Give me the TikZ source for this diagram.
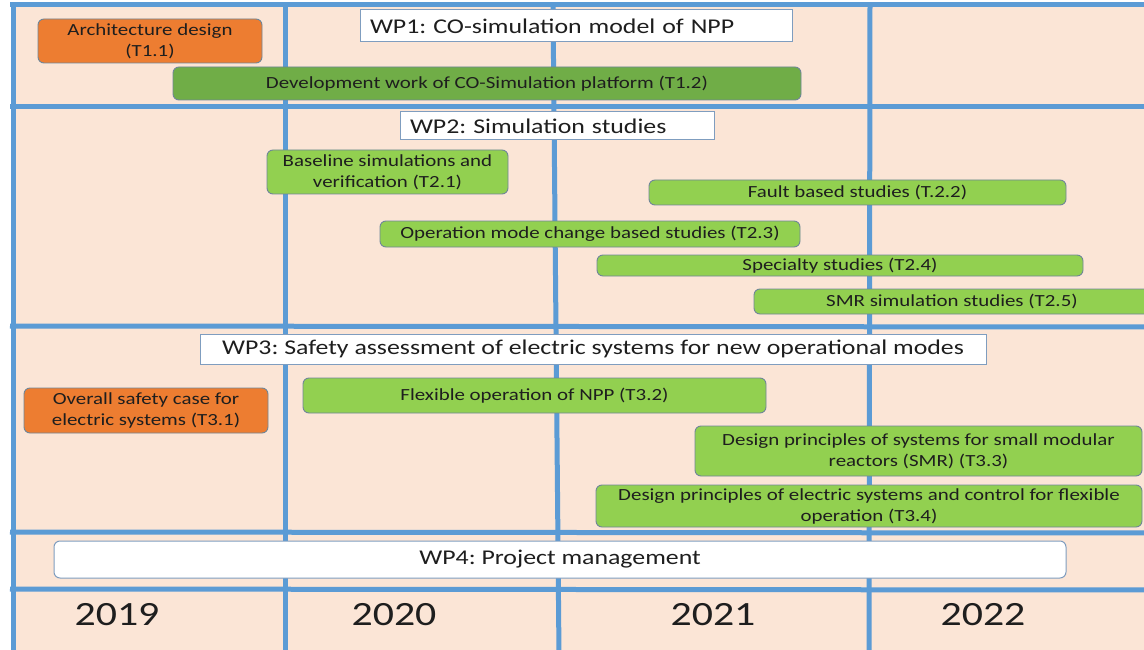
\documentclass[tikz,border=0pt]{standalone}
\usepackage{fontspec}
\setmainfont{Carlito}[FakeStretch=1.23]
\frenchspacing
\definecolor{peach}{HTML}{FBE5D6}
\definecolor{gridblue}{HTML}{5B9BD5}
\definecolor{taskorange}{HTML}{ED7D31}
\definecolor{taskgreen}{HTML}{92D050}
\definecolor{darkgreen}{HTML}{70AD47}
\definecolor{boxedge}{HTML}{6F8698}
\definecolor{wpedge}{HTML}{7F9DBF}
\definecolor{ink}{HTML}{1E1E1E}
\begin{document}
\begin{tikzpicture}[x=1pt,y=-1pt,
  gridline/.style={draw=gridblue, line width=5pt},
  task/.style={rounded corners=6pt, draw=boxedge, line width=0.9pt, align=center,
    text=ink, inner sep=0pt, font=\fontsize{17}{21}\selectfont},
  orangetask/.style={task, fill=taskorange},
  greentask/.style={task, fill=taskgreen},
  darktask/.style={task, fill=darkgreen},
  wp/.style={draw=wpedge, fill=white, line width=1pt, text=ink, inner xsep=10pt,
    inner ysep=0pt, font=\fontsize{21}{24}\selectfont},
  year/.style={text=ink, font=\fontsize{34}{38}\selectfont}]
\useasboundingbox (0,0) rectangle (1144,650);
\clip (0,0) rectangle (1144,650);
% background of the chart area
\fill[peach] (13,5) rectangle (1150,655);
% year columns and work-package rows
\draw[gridline] (13,5) -- (13,655);
\draw[gridline] (285,5) -- (285,655);
\draw[gridline] (553,5) -- (559,655);
\draw[gridline] (870,3) -- (869,655);
\draw[gridline] (10,5) -- (1150,5);
\draw[gridline] (10,107) -- (1150,107);
\draw[gridline] (10,326) -- (1150,327);
\draw[gridline] (10,532) -- (1150,533);
\draw[gridline] (10,589) -- (1150,590);

% WP1
\node[wp, minimum width=432pt, minimum height=32pt, text width=412pt, align=left] (wp1) at (576,26) {WP1: CO-simulation model of NPP};
\node[orangetask, minimum width=224pt, minimum height=44pt] (t11) at (150,41) {Architecture design\\(T1.1)};
\node[darktask, minimum width=628pt, minimum height=33pt] (t12) at (487,83.5) {Development work of CO-Simulation platform (T1.2)};

% WP2
\node[wp, minimum width=314pt, minimum height=28pt, text width=294pt, align=left] (wp2) at (557,126) {WP2: Simulation studies};
\node[greentask, minimum width=241pt, minimum height=44pt] (t21) at (387.5,172) {Baseline simulations and\\verification (T2.1)};
\node[greentask, minimum width=417pt, minimum height=25pt] (t22) at (857.5,192.5) {Fault based studies (T.2.2)};
\node[greentask, minimum width=420pt, minimum height=26pt] (t23) at (590,234) {Operation mode change based studies (T2.3)};
\node[greentask, minimum width=486pt, minimum height=21pt] (t24) at (840,265.5) {Specialty studies (T2.4)};
\node[greentask, minimum width=396pt, minimum height=25pt] (t25) at (952,301.5) {SMR simulation studies (T2.5)};

% WP3
\node[wp, minimum width=786pt, minimum height=30pt] (wp3) at (593,349) {WP3: Safety assessment of electric systems for new operational modes};
\node[orangetask, minimum width=244pt, minimum height=45pt] (t31) at (146,410.5) {Overall safety case for\\electric systems (T3.1)};
\node[greentask, minimum width=463pt, minimum height=35pt] (t32) at (534.5,395.5) {Flexible operation of NPP (T3.2)};
\node[greentask, minimum width=447pt, minimum height=50pt] (t33) at (918.5,451) {Design principles of systems for small modular\\reactors (SMR) (T3.3)};
\node[greentask, minimum width=546pt, minimum height=42pt] (t34) at (869,506) {Design principles of electric systems and control for flexible\\operation (T3.4)};

% WP4
\node[wp, rounded corners=6pt, minimum width=1012pt, minimum height=37pt] (wp4) at (560,559.5) {WP4: Project management};

% years
\node[year] (y2019) at (117,615) {2019};
\node[year] (y2020) at (394,615) {2020};
\node[year] (y2021) at (713,615) {2021};
\node[year] (y2022) at (983,615) {2022};
\end{tikzpicture}
\end{document}
